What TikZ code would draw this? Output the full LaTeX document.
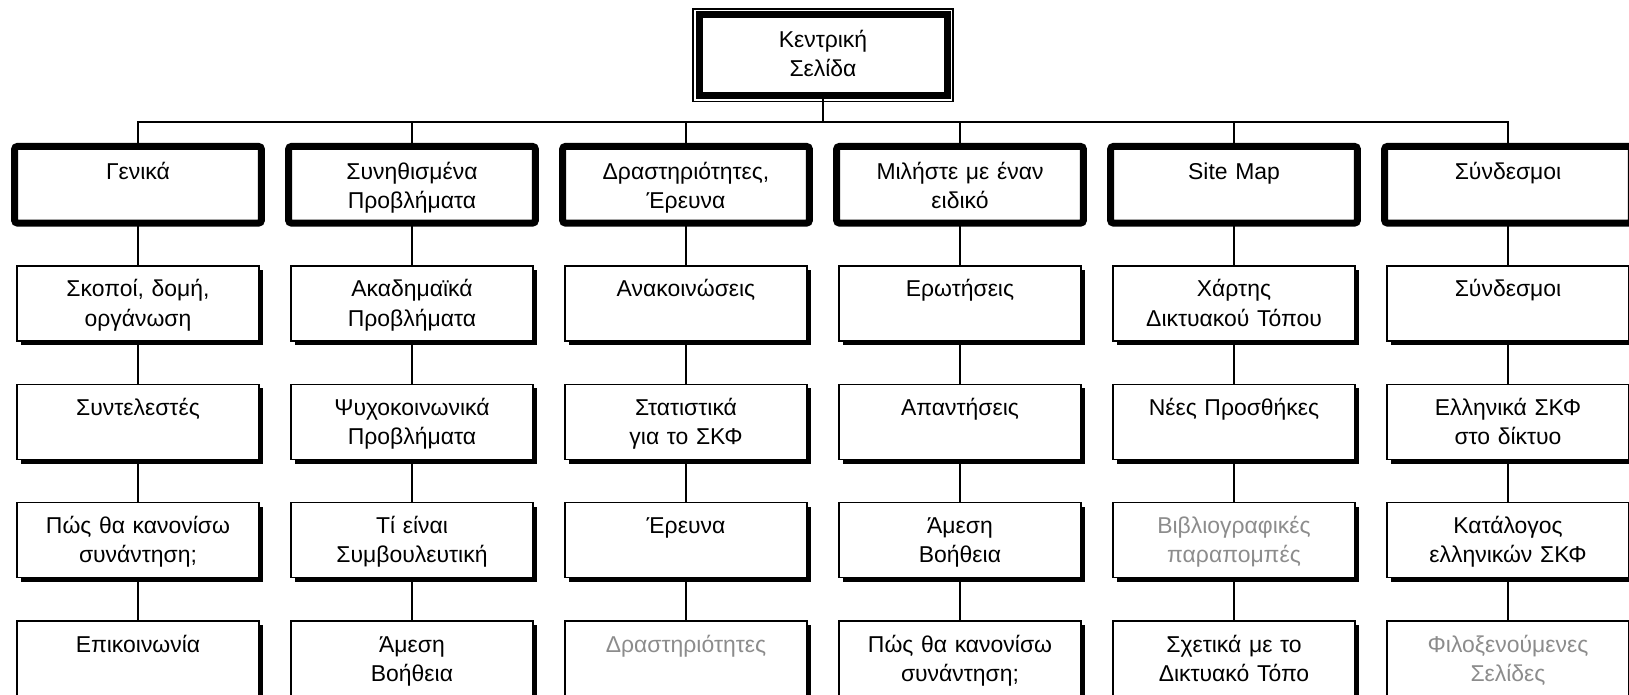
\documentclass[tikz,border=0pt]{standalone}
\usepackage{fontspec}
\setmainfont{Liberation Sans}
\usepackage{xcolor}
\usetikzlibrary{positioning,shadows,backgrounds}
\definecolor{dimtext}{RGB}{140,140,140}

\begin{document}
\begin{tikzpicture}[x=0.75pt,y=-0.75pt,
    every node/.style={font=\fontsize{17.2}{22}\selectfont,align=center,
                       inner sep=0pt,outer sep=0pt,anchor=north},
    home/.style   ={draw,fill=white,line width=5.25pt,text width=186pt,
                    text height=24.4pt,text depth=36pt},
    section/.style={draw,fill=white,line width=5.25pt,rounded corners=2pt,
                    text width=185pt,text height=24.4pt,text depth=33pt},
    page/.style   ={draw,fill=white,line width=1pt,text width=181.5pt,
                    text height=23.25pt,text depth=33pt,
                    drop shadow={shadow xshift=3pt,shadow yshift=-3pt,fill=black,opacity=1}},
    unused/.style ={text=dimtext},
    link/.style   ={line width=1pt},
  ]
  \useasboundingbox (0,0) rectangle (1629,695);
  \clip (0,0) rectangle (1629,695);

  % home page
  \node[home] (home) at (823,14.5) {Κεντρική\\Σελίδα};
  \draw[link] ([shift={(-6,-5.5)}]home.north west) rectangle ([shift={(6,6.5)}]home.south east);

  % sections
  \node[section] (s1) at (138,146.5)  {Γενικά};
  \node[section] (s2) at (412,146.5)  {Συνηθισμένα\\Προβλήματα};
  \node[section] (s3) at (686,146.5)  {Δραστηριότητες,\\Έρευνα};
  \node[section] (s4) at (960,146.5)  {Μιλήστε με έναν\\ειδικό};
  \node[section] (s5) at (1234,146.5) {Site Map};
  \node[section] (s6) at (1508,146.5) {Σύνδεσμοι};

  % pages under Γενικά
  \node[page] (p11) at (138,266)   {Σκοποί, δομή,\\οργάνωση};
  \node[page] (p12) at (138,384.5) {Συντελεστές};
  \node[page] (p13) at (138,502.5) {Πώς θα κανονίσω\\συνάντηση;};
  \node[page] (p14) at (138,621)   {Επικοινωνία};

  % pages under Συνηθισμένα Προβλήματα
  \node[page] (p21) at (412,266)   {Ακαδημαϊκά\\Προβλήματα};
  \node[page] (p22) at (412,384.5) {Ψυχοκοινωνικά\\Προβλήματα};
  \node[page] (p23) at (412,502.5) {Τί είναι\\Συμβουλευτική};
  \node[page] (p24) at (412,621)   {Άμεση\\Βοήθεια};

  % pages under Δραστηριότητες
  \node[page] (p31) at (686,266)   {Ανακοινώσεις};
  \node[page] (p32) at (686,384.5) {Στατιστικά\\για το ΣΚΦ};
  \node[page] (p33) at (686,502.5) {Έρευνα};
  \node[page,unused] (p34) at (686,621) {Δραστηριότητες};

  % pages under Μιλήστε με έναν ειδικό
  \node[page] (p41) at (960,266)   {Ερωτήσεις};
  \node[page] (p42) at (960,384.5) {Απαντήσεις};
  \node[page] (p43) at (960,502.5) {Άμεση\\Βοήθεια};
  \node[page] (p44) at (960,621)   {Πώς θα κανονίσω\\συνάντηση;};

  % pages under Site Map
  \node[page] (p51) at (1234,266)   {Χάρτης\\Δικτυακού Τόπου};
  \node[page] (p52) at (1234,384.5) {Νέες Προσθήκες};
  \node[page,unused] (p53) at (1234,502.5) {Βιβλιογραφικές\\παραπομπές};
  \node[page] (p54) at (1234,621)   {Σχετικά με το\\Δικτυακό Τόπο};

  % pages under Σύνδεσμοι
  \node[page] (p61) at (1508,266)   {Σύνδεσμοι};
  \node[page] (p62) at (1508,384.5) {Ελληνικά ΣΚΦ\\στο δίκτυο};
  \node[page] (p63) at (1508,502.5) {Κατάλογος\\ελληνικών ΣΚΦ};
  \node[page,unused] (p64) at (1508,621) {Φιλοξενούμενες\\Σελίδες};

  % connectors
  \begin{scope}[on background layer]
    \coordinate (bus) at (823,122);
    \draw[link] (home.south) -- (bus);
    \foreach \col in {1,...,6} {
      \draw[link] (bus) -| (s\col.north);
      \draw[link] (s\col.south) -- (p\col1.north);
      \foreach \row [count=\next from 2] in {1,2,3}
        \draw[link] (p\col\row.south) -- (p\col\next.north);
    }
  \end{scope}
\end{tikzpicture}
\end{document}
